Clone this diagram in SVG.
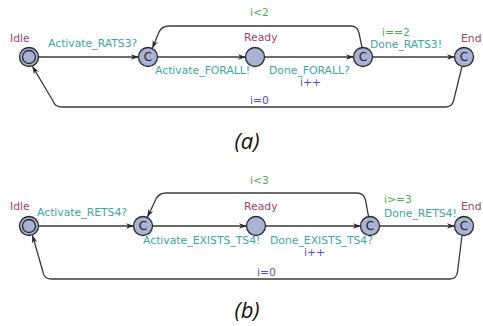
<svg xmlns="http://www.w3.org/2000/svg" width="483" height="326" viewBox="0 0 483 326">
  <style>
    text { font-family: "DejaVu Sans", "Liberation Sans", sans-serif; font-size: 10.8px; }
    .loc { fill: #a13f6c; }
    .sync { fill: #3ba7a7; }
    .guard { fill: #4db04d; }
    .upd { fill: #5252c4; }
    .node { fill: #a8b2d5; stroke: #2a2a2a; stroke-width: 1.3; }
    .ctext { fill: #222; font-size: 12px; text-anchor: middle; }
    .edge { fill: none; stroke: #3a3a3a; stroke-width: 1.3; marker-end: url(#arrow); }
    .caption { font-family: "Open Sans", "DejaVu Sans", sans-serif; font-style: italic; font-size: 22px; fill: #111; text-anchor: middle; }
  </style>
  <defs>
    <marker id="arrow" viewBox="0 0 10 8" refX="9.5" refY="4" markerWidth="8" markerHeight="6.4" markerUnits="userSpaceOnUse" orient="auto">
      <path d="M0,0.5 L10,4 L0,7.5 L3,4 Z" fill="#2a2a2a"/>
    </marker>
  </defs>

  <!-- Automaton (a) -->
  <g id="a-edges">
    <path class="edge" d="M38.5,57 L138.5,57"/>
    <path class="edge" d="M157.5,57 L245.5,57"/>
    <path class="edge" d="M264.5,57 L353.5,57"/>
    <path class="edge" d="M372.5,57 L454.5,57"/>
    <path class="edge" d="M362,47.5 L359,33 Q357.5,26 351,26 L169,26 Q162,26 159,32 L152.5,48"/>
    <path class="edge" d="M462,66.5 L453.5,101 Q452,107 445,107 L62,107 Q55,107 53,101 L32.5,66.5"/>
  </g>
  <g id="a-idle">
    <circle class="node" cx="29" cy="57" r="9.5"/>
    <circle class="node" cx="29" cy="57" r="6.5"/>
    <text class="loc" x="10" y="42">Idle</text>
  </g>
  <g id="a-c1">
    <circle class="node" cx="148" cy="57" r="9.5"/>
    <text class="ctext" x="148" y="61.3">C</text>
  </g>
  <g id="a-ready">
    <circle class="node" cx="255" cy="57" r="9.5"/>
    <text class="loc" x="244" y="41">Ready</text>
  </g>
  <g id="a-c2">
    <circle class="node" cx="363" cy="57" r="9.5"/>
    <text class="ctext" x="363" y="61.3">C</text>
  </g>
  <g id="a-end">
    <circle class="node" cx="464" cy="57" r="9.5"/>
    <text class="ctext" x="464" y="61.3">C</text>
    <text class="loc" x="461" y="42">End</text>
  </g>
  <g id="a-labels">
    <text class="sync" x="48" y="47">Activate_RATS3?</text>
    <text class="sync" x="155" y="74">Activate_FORALL!</text>
    <text class="sync" x="269" y="74">Done_FORALL?</text>
    <text class="upd" x="300" y="86">i++</text>
    <text class="guard" x="250" y="16">i&lt;2</text>
    <text class="guard" x="382" y="36">i==2</text>
    <text class="sync" x="370" y="48">Done_RATS3!</text>
    <text class="upd" x="250" y="104">i=0</text>
  </g>
  <text class="caption" x="247" y="149">(a)</text>

  <!-- Automaton (b) -->
  <g id="b-edges">
    <path class="edge" d="M38.5,226 L133.5,226"/>
    <path class="edge" d="M152.5,226 L246.5,226"/>
    <path class="edge" d="M265.5,226 L360.5,226"/>
    <path class="edge" d="M379.5,226 L454.5,226"/>
    <path class="edge" d="M368.5,216.5 L365.5,200 Q364,193 357,193 L166,193 Q159,193 156,199 L147.5,217"/>
    <path class="edge" d="M462,235.5 L457.5,272 Q456.5,279 450,279 L51,279 Q44,279 43,272 L32.5,235.5"/>
  </g>
  <g id="b-idle">
    <circle class="node" cx="29" cy="226" r="9.5"/>
    <circle class="node" cx="29" cy="226" r="6.5"/>
    <text class="loc" x="10" y="210">Idle</text>
  </g>
  <g id="b-c1">
    <circle class="node" cx="143" cy="226" r="9.5"/>
    <text class="ctext" x="143" y="230.3">C</text>
  </g>
  <g id="b-ready">
    <circle class="node" cx="256" cy="226" r="9.5"/>
    <text class="loc" x="244" y="210">Ready</text>
  </g>
  <g id="b-c2">
    <circle class="node" cx="370" cy="226" r="9.5"/>
    <text class="ctext" x="370" y="230.3">C</text>
  </g>
  <g id="b-end">
    <circle class="node" cx="464" cy="226" r="9.5"/>
    <text class="ctext" x="464" y="230.3">C</text>
    <text class="loc" x="461" y="210">End</text>
  </g>
  <g id="b-labels">
    <text class="sync" x="37" y="216">Activate_RETS4?</text>
    <text class="sync" x="143" y="244">Activate_EXISTS_TS4!</text>
    <text class="sync" x="270" y="244">Done_EXISTS_TS4?</text>
    <text class="upd" x="304" y="256">i++</text>
    <text class="guard" x="250" y="184">i&lt;3</text>
    <text class="guard" x="384" y="203">i&gt;=3</text>
    <text class="sync" x="384" y="217">Done_RETS4!</text>
    <text class="upd" x="257" y="276">i=0</text>
  </g>
  <text class="caption" x="247" y="318">(b)</text>
</svg>
